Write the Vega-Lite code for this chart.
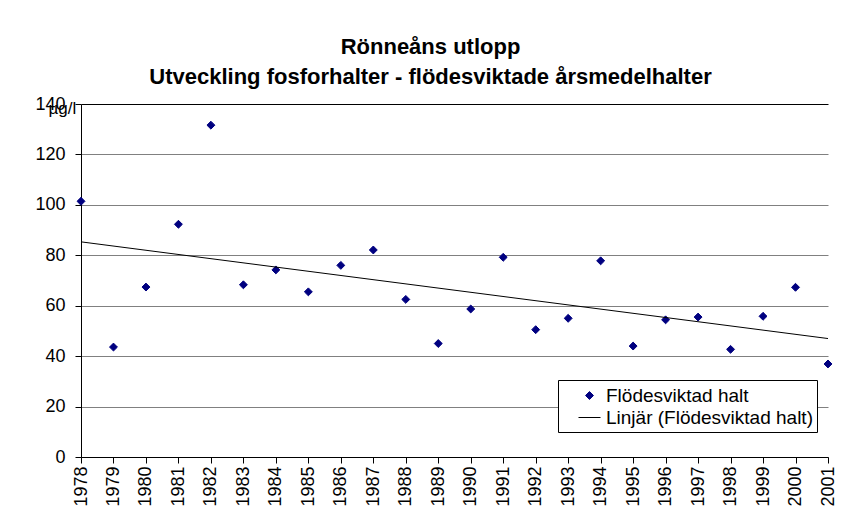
{
  "$schema": "https://vega.github.io/schema/vega-lite/v6.json",
  "width": 747,
  "height": 353,
  "autosize": {"type": "none"},
  "padding": {"left": 81, "top": 104, "right": 25, "bottom": 66},
  "background": "white",
  "config": {
    "font": "Liberation Sans",
    "view": {"stroke": null},
    "axis": {"labelColor": "black", "titleColor": "black", "domainColor": "black", "tickColor": "black"}
  },
  "title": {
    "text": ["Rönneåns utlopp", "Utveckling fosforhalter - flödesviktade årsmedelhalter"],
    "font": "Liberation Sans",
    "fontSize": 22,
    "fontWeight": "bold",
    "lineHeight": 30,
    "color": "black",
    "anchor": "middle",
    "dx": -24,
    "offset": 6
  },
  "data": {
    "values": [
      {"year": 1978, "halt": 101.4, "series": "Flödesviktad halt"},
      {"year": 1979, "halt": 43.6, "series": "Flödesviktad halt"},
      {"year": 1980, "halt": 67.4, "series": "Flödesviktad halt"},
      {"year": 1981, "halt": 92.3, "series": "Flödesviktad halt"},
      {"year": 1982, "halt": 131.6, "series": "Flödesviktad halt"},
      {"year": 1983, "halt": 68.3, "series": "Flödesviktad halt"},
      {"year": 1984, "halt": 74.2, "series": "Flödesviktad halt"},
      {"year": 1985, "halt": 65.5, "series": "Flödesviktad halt"},
      {"year": 1986, "halt": 76.0, "series": "Flödesviktad halt"},
      {"year": 1987, "halt": 82.1, "series": "Flödesviktad halt"},
      {"year": 1988, "halt": 62.5, "series": "Flödesviktad halt"},
      {"year": 1989, "halt": 45.0, "series": "Flödesviktad halt"},
      {"year": 1990, "halt": 58.7, "series": "Flödesviktad halt"},
      {"year": 1991, "halt": 79.2, "series": "Flödesviktad halt"},
      {"year": 1992, "halt": 50.5, "series": "Flödesviktad halt"},
      {"year": 1993, "halt": 55.0, "series": "Flödesviktad halt"},
      {"year": 1994, "halt": 77.8, "series": "Flödesviktad halt"},
      {"year": 1995, "halt": 44.0, "series": "Flödesviktad halt"},
      {"year": 1996, "halt": 54.4, "series": "Flödesviktad halt"},
      {"year": 1997, "halt": 55.5, "series": "Flödesviktad halt"},
      {"year": 1998, "halt": 42.7, "series": "Flödesviktad halt"},
      {"year": 1999, "halt": 55.8, "series": "Flödesviktad halt"},
      {"year": 2000, "halt": 67.3, "series": "Flödesviktad halt"},
      {"year": 2001, "halt": 36.9, "series": "Flödesviktad halt"}
    ]
  },
  "encoding": {
    "x": {
      "field": "year",
      "type": "quantitative",
      "scale": {"domain": [1978, 2001], "nice": false, "zero": false},
      "axis": {
        "title": null,
        "values": [1978,1979,1980,1981,1982,1983,1984,1985,1986,1987,1988,1989,1990,1991,1992,1993,1994,1995,1996,1997,1998,1999,2000,2001],
        "format": "d",
        "labelAngle": -90,
        "labelFontSize": 18,
        "labelPadding": 3,
        "tickSize": 6,
        "grid": false,
        "labelOverlap": false,
        "labelFlush": false
      }
    },
    "y": {
      "field": "halt",
      "type": "quantitative",
      "scale": {"domain": [0, 140], "nice": false},
      "axis": {
        "title": "µg/l",
        "titleAngle": 0,
        "titleFontSize": 17,
        "titleFontWeight": "normal",
        "titleAlign": "left",
        "titleBaseline": "alphabetic",
        "titleX": -33,
        "titleY": 9,
        "values": [0, 20, 40, 60, 80, 100, 120, 140],
        "labelFontSize": 18,
        "labelPadding": 10,
        "tickSize": 6,
        "grid": true,
        "gridColor": {"condition": {"test": "datum.value === 140", "value": "black"}, "value": "#808080"},
        "gridOpacity": 1,
        "gridWidth": 1
      }
    }
  },
  "layer": [
    {
      "mark": {"type": "point", "filled": false, "fill": "#000080", "fillOpacity": 1, "strokeWidth": 1, "size": 484, "opacity": 1},
      "encoding": {
        "color": {
          "field": "series",
          "type": "nominal",
          "scale": {"domain": ["Flödesviktad halt", "Linjär (Flödesviktad halt)"], "range": ["#000080", "black"]},
          "legend": {
            "title": null,
            "orient": "none",
            "legendX": 477,
            "legendY": 276,
            "strokeColor": "black",
            "fillColor": "white",
            "padding": 4,
            "symbolOffset": 16,
            "labelFontSize": 19,
            "labelColor": "black",
            "labelOffset": 5,
            "labelLimit": 400,
            "rowPadding": 0,
            "symbolSize": 484,
            "symbolStrokeWidth": 1
          }
        },
        "shape": {
          "field": "series",
          "type": "nominal",
          "scale": {"domain": ["Flödesviktad halt", "Linjär (Flödesviktad halt)"], "range": ["M-0.36,0L0,-0.36L0.36,0L0,0.36Z", "M-1,0L1,0"]}
        }
      }
    },
    {
      "transform": [{"regression": "halt", "on": "year", "extent": [1978, 2001]}],
      "mark": {"type": "line", "color": "black", "strokeWidth": 1},
      "encoding": {}
    }
  ]
}
